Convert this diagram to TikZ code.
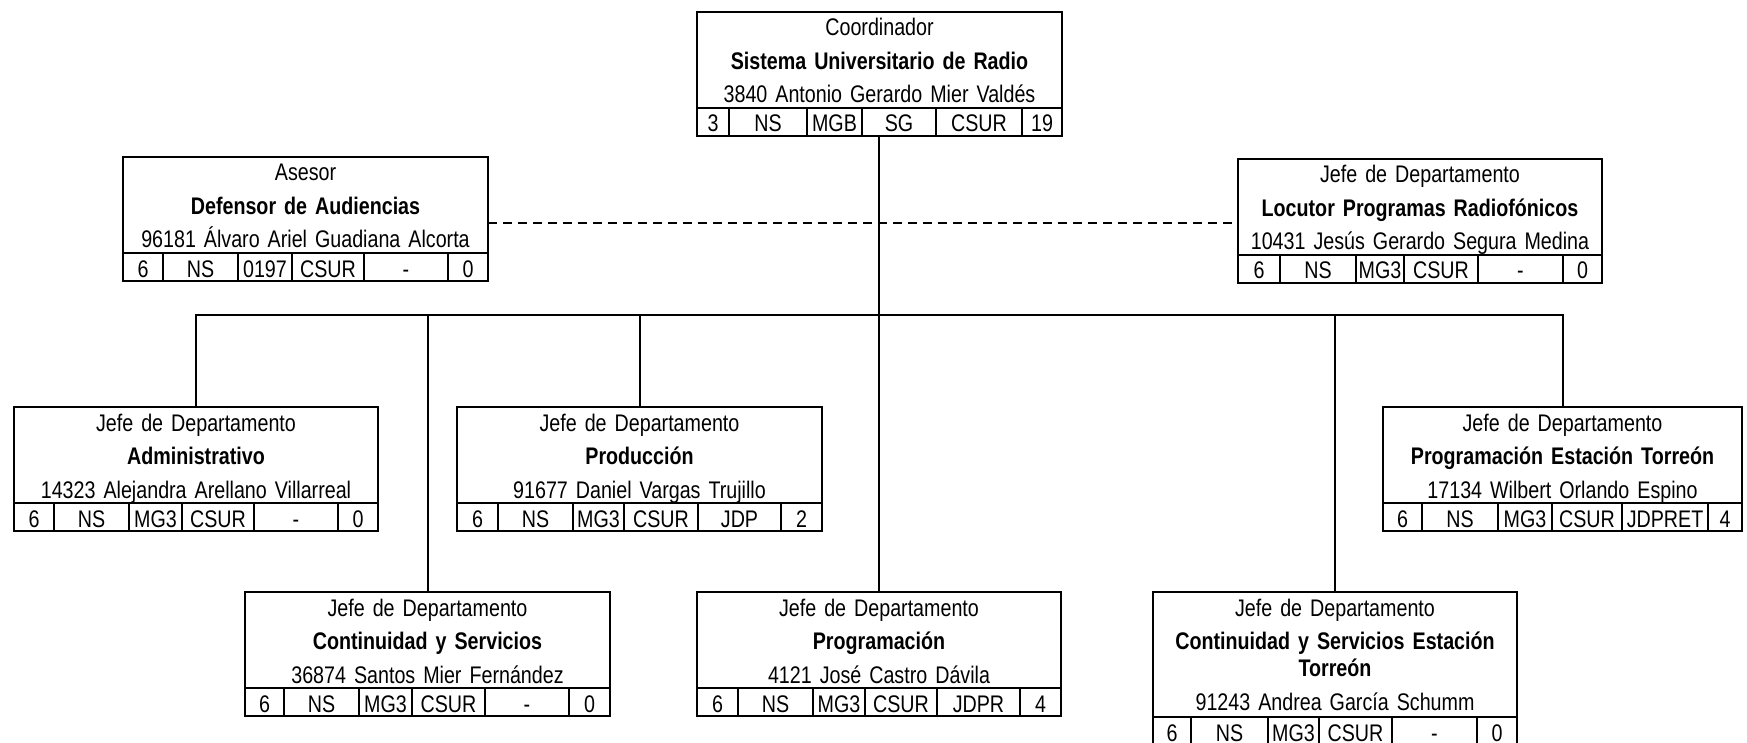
\documentclass[tikz,border=0pt]{standalone}
\usepackage{fontspec}
\setmainfont{Liberation Sans}[FakeStretch=0.82, WordSpace=0.8]

% fila de datos debajo de cada puesto
\newcommand{\fila}[2]{%
  \foreach \xa/\xb/\txt [count=\i] in {#2}
    \node[celda, minimum width={(\xb-\xa)*1pt}] (#1-\i) at (\xa,0 |- #1.south) {\txt};
}

\begin{document}
\begin{tikzpicture}[x=1pt, y=-1pt,
  caja/.style={draw, line width=2pt, outer sep=0pt, inner sep=0pt, anchor=north west,
    align=center, text height=24pt, text depth=72pt, font=\fontsize{24}{33.5}\selectfont},
  celda/.style={draw, line width=2pt, outer sep=0pt, inner sep=0pt, anchor=north west,
    minimum height=28pt, text height=20pt, text depth=0pt, font=\fontsize{24}{28}\selectfont},
  linea/.style={line width=2pt},
  punteada/.style={line width=1.5pt, dash pattern=on 9pt off 6pt}]

\useasboundingbox (0,0) rectangle (1747,743);

% Coordinador
\node[caja, text width=365pt] (coord) at (697,12) {Coordinador\\\textbf{Sistema Universitario de Radio}\\3840 Antonio Gerardo Mier Valdés};
\fila{coord}{697/729/3, 729/807/NS, 807/862/MGB, 862/936/SG, 936/1022/CSUR, 1022/1062/19}

% Asesor y locutor
\node[caja, text width=365pt] (asesor) at (123,157) {Asesor\\\textbf{Defensor de Audiencias}\\96181 Álvaro Ariel Guadiana Alcorta};
\fila{asesor}{123/163/6, 163/238/NS, 238/292/0197, 292/364/CSUR, 364/448/-, 448/488/0}
\node[caja, text width=364pt] (locutor) at (1238,159) {Jefe de Departamento\\\textbf{Locutor Programas Radiofónicos}\\10431 Jesús Gerardo Segura Medina};
\fila{locutor}{1238/1280/6, 1280/1356/NS, 1356/1404/MG3, 1404/1478/CSUR, 1478/1563/-, 1563/1602/0}

% Departamentos, primera fila
\node[caja, text width=364pt] (adm) at (14,407) {Jefe de Departamento\\\textbf{Administrativo}\\14323 Alejandra Arellano Villarreal};
\fila{adm}{14/54/6, 54/129/NS, 129/182/MG3, 182/254/CSUR, 254/338/-, 338/378/0}
\node[caja, text width=365pt] (prod) at (457,407) {Jefe de Departamento\\\textbf{Producción}\\91677 Daniel Vargas Trujillo};
\fila{prod}{457/498/6, 498/573/NS, 573/624/MG3, 624/698/CSUR, 698/781/JDP, 781/822/2}
\node[caja, text width=359pt] (progtor) at (1383,407) {Jefe de Departamento\\\textbf{Programación Estación Torreón}\\17134 Wilbert Orlando Espino};
\fila{progtor}{1383/1422/6, 1422/1498/NS, 1498/1552/MG3, 1552/1622/CSUR, 1622/1708/JDPRET, 1708/1742/4}

% Departamentos, segunda fila
\node[caja, text width=365pt] (cont) at (245,592) {Jefe de Departamento\\\textbf{Continuidad y Servicios}\\36874 Santos Mier Fernández};
\fila{cont}{245/284/6, 284/359/NS, 359/412/MG3, 412/485/CSUR, 485/569/-, 569/610/0}
\node[caja, text width=364pt] (prog) at (697,592) {Jefe de Departamento\\\textbf{Programación}\\4121 José Castro Dávila};
\fila{prog}{697/738/6, 738/813/NS, 813/865/MG3, 865/937/CSUR, 937/1020/JDPR, 1020/1061/4}
\node[caja, text width=364pt, text depth=101pt] (conttor) at (1153,592) {Jefe de Departamento\\\textbf{Continuidad y Servicios Estación}\\[-6.5pt]\textbf{Torreón}\\91243 Andrea García Schumm};
\fila{conttor}{1153/1191/6, 1191/1268/NS, 1268/1319/MG3, 1319/1392/CSUR, 1392/1477/-, 1477/1517/0}

% lineas
\coordinate (bus) at (0,315);
\coordinate (enlace) at ([yshift=-18pt]asesor.east);
\draw[line width=1.5pt] (prog.north |- coord-4.south) -- (prog.north);
\draw[linea] (adm.north) -- (adm.north |- bus) -- (progtor.north |- bus) -- (progtor.north);
\foreach \n in {cont, prod, conttor}
  \draw[linea] (\n.north) -- (\n.north |- bus);
\draw[punteada] (enlace) -- (enlace -| locutor.west);
\end{tikzpicture}
\end{document}
